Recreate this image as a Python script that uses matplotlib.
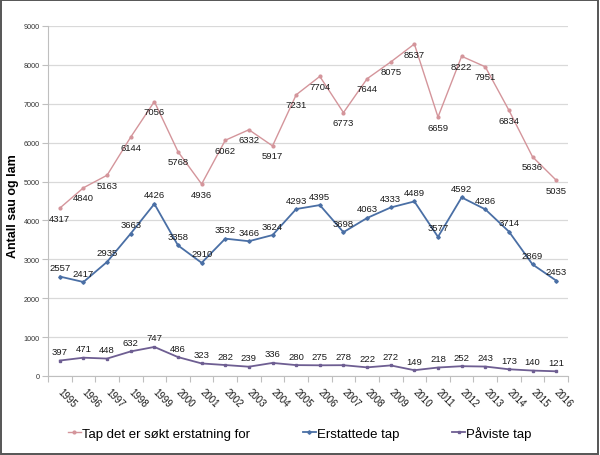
import matplotlib
matplotlib.use("Agg")
import matplotlib.pyplot as plt
from matplotlib.patches import Rectangle
import numpy as np

years = [str(y) for y in range(1995, 2017)]
tap_sokt = [4317, 4840, 5163, 6144, 7056, 5768, 4936, 6062, 6332, 5917, 7231,
            7704, 6773, 7644, 8075, 8537, 6659, 8222, 7951, 6834, 5636, 5035]
erstattede = [2557, 2417, 2935, 3663, 4426, 3358, 2910, 3532, 3466, 3624, 4293,
              4395, 3698, 4063, 4333, 4489, 3577, 4592, 4286, 3714, 2869, 2453]
paviste = [397, 471, 448, 632, 747, 486, 323, 282, 239, 336, 280,
           275, 278, 222, 272, 149, 218, 252, 243, 173, 140, 121]
series_names = ["Tap det er søkt erstatning for", "Erstattede tap", "Påviste tap"]
yticks = [0, 1000, 2000, 3000, 4000, 5000, 6000, 7000, 8000, 9000]

plt.rcParams['font.family'] = ['Liberation Sans', 'DejaVu Sans']

fig = plt.figure(figsize=(6.0, 4.56), dpi=100)
ax = fig.add_axes([48/600, 1-377/456, 520/600, 350/456])

x = np.arange(len(years))
c_pink = '#D4959B'
c_blue = '#4A6FA5'
c_purp = '#6E5E92'

l1, = ax.plot(x, tap_sokt, color=c_pink, lw=1.0, marker='o', ms=2.0, label=series_names[0], zorder=3)
l2, = ax.plot(x, erstattede, color=c_blue, lw=1.3, marker='D', ms=1.8, label=series_names[1], zorder=3)
l3, = ax.plot(x, paviste, color=c_purp, lw=1.3, marker='s', ms=2.0, label=series_names[2], zorder=3)

for xi, v in zip(x, tap_sokt):
    ax.annotate(str(v), (xi, v), xytext=(0, -10), textcoords='offset pixels',
                ha='center', va='center', fontsize=6.8, color='#1a1a1a', zorder=4)
for xi, v in zip(x, erstattede):
    ax.annotate(str(v), (xi, v), xytext=(0, 9), textcoords='offset pixels',
                ha='center', va='center', fontsize=6.8, color='#1a1a1a', zorder=4)
for xi, v in zip(x, paviste):
    ax.annotate(str(v), (xi, v), xytext=(0, 9), textcoords='offset pixels',
                ha='center', va='center', fontsize=6.8, color='#1a1a1a', zorder=4)

ax.set_xlim(-0.5, len(years) - 0.5)
ax.set_ylim(0, 9000)
ax.set_yticks(yticks)
ax.set_yticklabels([str(t) for t in yticks], fontsize=5.2, color='#333333')
ax.yaxis.grid(True, color='#D9D9D9', lw=0.9)
ax.set_axisbelow(True)

ax.set_xticks(x)
ax.set_xticklabels(years, rotation=-45, ha='left', va='center', rotation_mode='anchor',
                   fontsize=7, color='#1a1a1a')
ax.tick_params(axis='x', which='major', length=0, pad=10)
ax.set_xticks(np.arange(-0.5, len(years)), minor=True)
ax.tick_params(axis='x', which='minor', length=4, color='#BFBFBF', width=0.8)
ax.tick_params(axis='y', length=4, color='#BFBFBF', width=0.8, pad=2)

for s in ['top', 'right']:
    ax.spines[s].set_visible(False)
for s in ['left', 'bottom']:
    ax.spines[s].set_color('#BFBFBF')
    ax.spines[s].set_linewidth(0.8)

fig.text(13/600, 1-206/456, 'Antall sau og lam', rotation=90, ha='center', va='center',
         fontsize=9, fontweight='bold', color='#000000')

fig.legend(handles=[l1, l2, l3], loc='center', bbox_to_anchor=(0.5, 1-434/456), ncol=3,
           frameon=False, fontsize=9.5, handlelength=0.95, handletextpad=0.12,
           columnspacing=4.0, markerscale=1.0)

fig.patches.append(Rectangle((0.001, 0.002), 0.995, 0.996, transform=fig.transFigure,
                             fill=False, edgecolor='#555555', lw=1.4))

fig.savefig('out.png', dpi=100)
